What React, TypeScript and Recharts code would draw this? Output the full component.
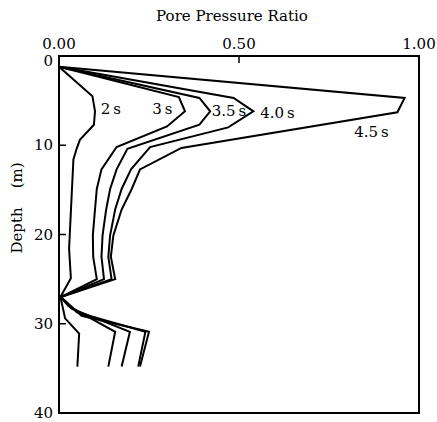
import {
  LineChart,
  Line,
  XAxis,
  YAxis,
  ReferenceArea,
  ReferenceDot,
} from "recharts";

// [pore pressure ratio, depth (m)], top to bottom
const profile2s: [number, number][] = [
  [0, 1.2], [0.093, 4.5], [0.1, 6.2], [0.097, 7.7], [0.058, 9.4], [0.049, 10.4],
  [0.04, 11.6], [0.028, 21.6], [0.033, 24.9], [0.004, 27.0], [0.017, 29.4],
  [0.056, 31.1], [0.051, 34.8],
];
const profile3s: [number, number][] = [
  [0, 1.2], [0.333, 4.6], [0.35, 6.2], [0.3, 7.9], [0.16, 10.2], [0.118, 12.7],
  [0.105, 14.9], [0.1, 17.2], [0.094, 20.1], [0.095, 22.5], [0.105, 25.0],
  [0.005, 27.0], [0.026, 28.0], [0.156, 30.9], [0.137, 34.8],
];
const profile35s: [number, number][] = [
  [0, 1.2], [0.39, 4.7], [0.42, 6.2], [0.39, 7.7], [0.19, 10.4], [0.16, 12.7],
  [0.142, 14.9], [0.131, 17.2], [0.121, 20.1], [0.118, 22.5], [0.125, 25.0],
  [0.005, 27.0], [0.035, 28.3], [0.197, 30.9], [0.174, 34.8],
];
const profile40s: [number, number][] = [
  [0, 1.2], [0.485, 4.7], [0.54, 6.2], [0.47, 8.0], [0.253, 10.2], [0.2, 12.7],
  [0.174, 14.9], [0.156, 17.2], [0.142, 20.1], [0.137, 22.5], [0.146, 25.0],
  [0.005, 27.0], [0.049, 28.7], [0.24, 30.9], [0.22, 34.8],
];
const profile45s: [number, number][] = [
  [0, 1.2], [0.96, 4.7], [0.94, 6.3], [0.34, 10.3], [0.225, 12.7], [0.202, 14.9],
  [0.174, 17.2], [0.151, 20.1], [0.144, 22.5], [0.156, 25.0], [0.005, 27.0],
  [0.063, 29.1], [0.25, 30.9], [0.225, 34.8],
];

const curveNames = ["2\u2009s", "3\u2009s", "3.5\u2009s", "4.0\u2009s", "4.5\u2009s"];
const ratioTicks = [0, 0.5, 1];
const depthTicks = [0, 10, 20, 30, 40];

// where each curve name is written, in chart units
const labelSpots: [number, number][] = [
  [0.144, 5.9], [0.287, 5.9], [0.472, 6.15], [0.607, 6.4], [0.868, 8.5],
];

const toPoints = (pairs: [number, number][]) => pairs.map(([v, d]) => ({ v, d }));
const profiles = [profile2s, profile3s, profile35s, profile40s, profile45s].map(toPoints);

const font = "'DejaVu Serif', 'Liberation Serif', serif";
const tickStyle = { fill: "#000", fontSize: 15, fontFamily: font };

// the "0" at the top corner sits a little lower than the others in the figure
function DepthTick(props: any) {
  const { x, y, payload } = props;
  return (
    <text
      x={x}
      y={y + (payload.value === 0 ? 5 : 0)}
      textAnchor="end"
      dominantBaseline="central"
      fill="#000"
      fontSize={15}
      fontFamily={font}
    >
      {payload.value}
    </text>
  );
}

export default function App() {
  return (
    <div style={{ position: "absolute", left: 0, top: 0, background: "#fff" }}>
      <LineChart width={437} height={422} margin={{ top: 0, right: 18, bottom: 9, left: 0 }}>
        <XAxis
          xAxisId="r"
          type="number"
          dataKey="v"
          orientation="top"
          domain={[0, 1]}
          ticks={ratioTicks}
          tickFormatter={(t: number) => t.toFixed(2)}
          height={56}
          axisLine={false}
          tickSize={-7}
          tickMargin={14}
          tickLine={{ stroke: "#000", strokeWidth: 1.5 }}
          tick={tickStyle}
          label={{
            content: () => (
              <text x={232} y={21} textAnchor="middle" fontSize={15} fontFamily={font} fill="#000">
                Pore Pressure Ratio
              </text>
            ),
          }}
        />
        <YAxis
          yAxisId="d"
          type="number"
          dataKey="d"
          domain={[0, 40]}
          reversed
          ticks={depthTicks}
          width={59}
          axisLine={false}
          tickSize={-7}
          tickMargin={13}
          tickLine={{ stroke: "#000", strokeWidth: 1.5 }}
          tick={<DepthTick />}
          label={{
            content: () => (
              <text
                x={22}
                y={208}
                transform="rotate(-90 22 208)"
                textAnchor="middle"
                fontSize={15}
                fontFamily={font}
                fill="#000"
                style={{ whiteSpace: "pre" }}
              >
                {"Depth    (m)"}
              </text>
            ),
          }}
        />
        <ReferenceArea
          xAxisId="r"
          yAxisId="d"
          x1={0}
          x2={1}
          y1={0}
          y2={40}
          fill="none"
          stroke="#000"
          strokeWidth={2}
        />
        {profiles.map((pts, i) => (
          <Line
            key={curveNames[i]}
            xAxisId="r"
            yAxisId="d"
            data={pts}
            dataKey="d"
            type="linear"
            stroke="#000"
            strokeWidth={2}
            dot={false}
            isAnimationActive={false}
          />
        ))}
        {labelSpots.map(([v, d], i) => (
          <ReferenceDot
            key={"lab" + i}
            xAxisId="r"
            yAxisId="d"
            x={v}
            y={d}
            r={0}
            fill="none"
            stroke="none"
            label={{
              value: curveNames[i],
              position: "center",
              fill: "#000",
              fontSize: 15,
              fontFamily: font,
            }}
          />
        ))}
      </LineChart>
    </div>
  );
}
